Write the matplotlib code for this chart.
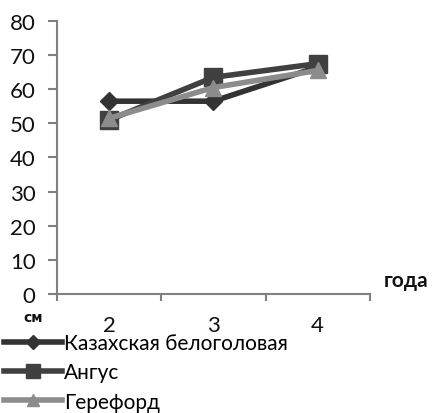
import matplotlib
matplotlib.use("Agg")
import matplotlib.pyplot as plt

years = ["2", "3", "4"]
kazakh = [56.5, 56.5, 66.5]
angus = [51.0, 63.5, 67.5]
hereford = [51.5, 60.5, 65.5]
series_names = ["Казахская белоголовая", "Ангус", "Герефорд"]
y_ticks = [0, 10, 20, 30, 40, 50, 60, 70, 80]

plt.rcParams['font.family'] = ['Lato', 'DejaVu Sans']

fig = plt.figure(figsize=(4.32, 4.14), dpi=100)
ax = fig.add_axes([0.132, 0.2874, 0.724, 0.6595])

x = [0.5, 1.5, 2.5]
l1, = ax.plot(x, kazakh, color='#333333', lw=4, marker='D', ms=9, label=series_names[0])
l2, = ax.plot(x, angus, color='#404040', lw=4, marker='s', ms=13, label=series_names[1])
l3, = ax.plot(x, hereford, color='#8c8c8c', lw=4, marker='^', ms=12, label=series_names[2])

ax.set_xlim(0, 3)
ax.set_ylim(0, 80)
ax.set_yticks(y_ticks)
ax.set_yticklabels([str(v) for v in y_ticks], fontsize=16, color='#111111')
ax.set_xticks([0, 1, 2, 3])
ax.set_xticklabels([])
ax.set_xticks(x, minor=True)
ax.set_xticklabels(years, minor=True, fontsize=16, color='#111111')
ax.tick_params(axis='x', which='minor', length=0, pad=15)
ax.tick_params(axis='x', which='major', length=5, color='#808080', width=1.5)
ax.tick_params(axis='y', length=6.5, color='#808080', width=1.5, pad=9)
for s in ['top', 'right']:
    ax.spines[s].set_visible(False)
for s in ['left', 'bottom']:
    ax.spines[s].set_color('#808080')
    ax.spines[s].set_linewidth(1.5)

fig.text(384 / 432, 1 - 291 / 414, "года", fontsize=15, fontweight='bold', color='#111111', va='bottom', ha='left')
fig.text(33 / 432, 1 - 318 / 414, "см", fontsize=10, fontweight='bold', color='#111111',
         va='center', ha='center', family='DejaVu Sans')

leg = fig.legend(handles=[l1, l2, l3], loc='upper left', bbox_to_anchor=(0.009, 1 - 334 / 414),
           frameon=False, fontsize=15, handlelength=2.8, handletextpad=0.1,
           labelspacing=0.45, borderaxespad=0, borderpad=0, markerscale=0.75)

fig.savefig("out.png", dpi=100, facecolor='white')
